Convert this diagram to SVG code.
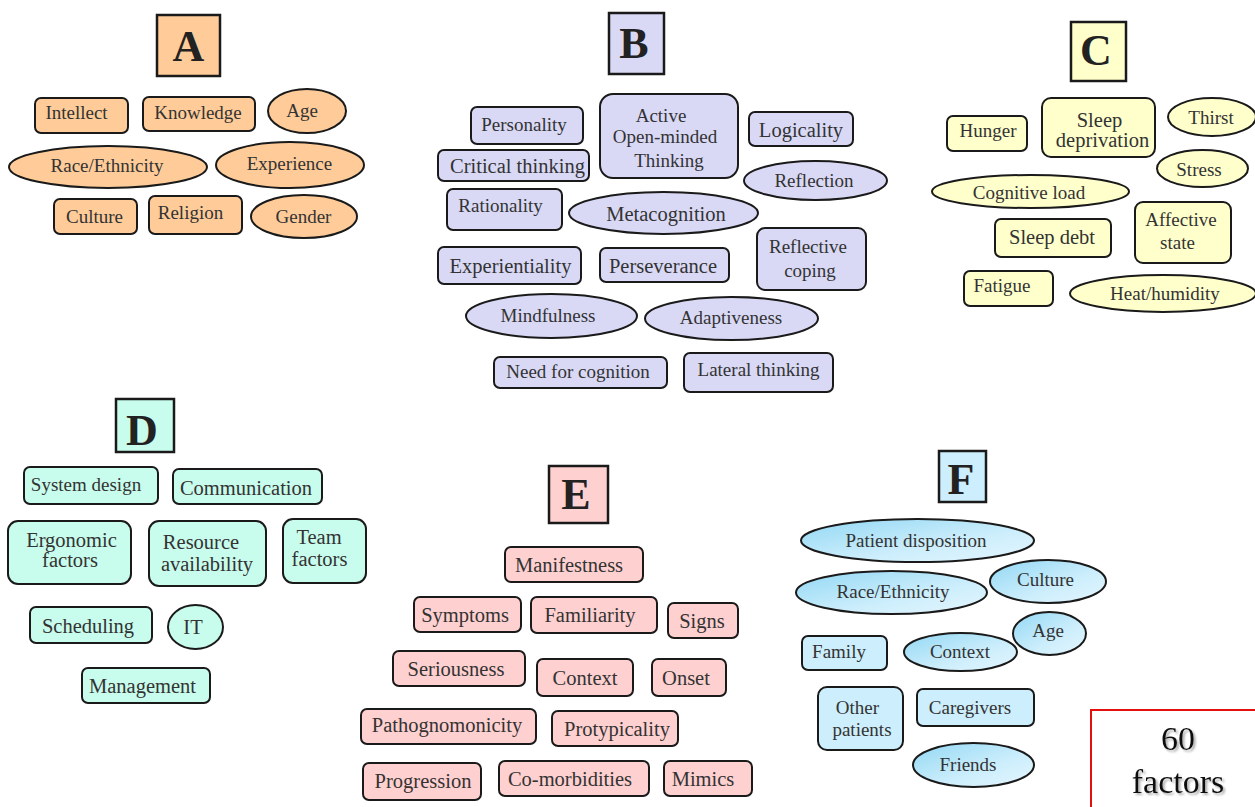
<svg xmlns="http://www.w3.org/2000/svg" width="1255" height="807" viewBox="0 0 1255 807">
<defs>
<style>
text{font-family:"Liberation Serif","Times New Roman",serif;font-size:19px;fill:#333;text-anchor:middle}
.big{font-size:20.5px}
.L{font-size:44px;font-weight:bold;fill:#222}
.n{stroke:#1a1a1a;stroke-width:2}
.lb{stroke:#1a1a1a;stroke-width:2.5}
.a{fill:#FFCC99}
.b{fill:#D9D9F6}
.c{fill:#FFFFCC}
.d{fill:#C8FCEC}
.e{fill:#FFD0D0}
.f{fill:#CDEEFC}
.fg{fill:url(#gradF)}
.tot{font-size:34px;fill:#111;filter:url(#sh)}
</style>
<linearGradient id="gradF" x1="0" y1="0" x2="1" y2="1">
<stop offset="0" stop-color="#92D8F4"/>
<stop offset="0.6" stop-color="#CDEEFC"/>
<stop offset="1" stop-color="#E4F6FE"/>
</linearGradient>
<filter id="sh" x="-20%" y="-20%" width="140%" height="140%">
<feDropShadow dx="2" dy="2" stdDeviation="1.2" flood-color="#777" flood-opacity="0.6"/>
</filter>
</defs>
<rect width="1255" height="807" fill="#fff"/>
<g id="connectors"/>

<!-- A -->
<g id="labelA"><rect class="a lb" x="157" y="15" width="63" height="61"/><text class="L" x="188.5" y="61">A</text></g>
<g id="a-intellect"><rect class="a n" x="35" y="98" width="93" height="35" rx="6"/><text x="76.5" y="119">Intellect</text></g>
<g id="a-knowledge"><rect class="a n" x="143" y="97" width="112" height="34" rx="6"/><text x="198" y="119">Knowledge</text></g>
<g id="a-age"><ellipse class="a n" cx="307" cy="111" rx="39" ry="22"/><text x="302" y="117">Age</text></g>
<g id="a-race"><ellipse class="a n" cx="108" cy="167" rx="99" ry="21"/><text x="107" y="172">Race/Ethnicity</text></g>
<g id="a-experience"><ellipse class="a n" cx="290" cy="165" rx="74" ry="23"/><text x="289.5" y="170">Experience</text></g>
<g id="a-culture"><rect class="a n" x="54" y="199" width="83" height="35" rx="6"/><text x="94.5" y="223">Culture</text></g>
<g id="a-religion"><rect class="a n" x="149" y="196" width="93" height="38" rx="6"/><text x="190.5" y="219">Religion</text></g>
<g id="a-gender"><ellipse class="a n" cx="304" cy="216.5" rx="53" ry="21.5"/><text x="303.5" y="223">Gender</text></g>

<!-- B -->
<g id="labelB"><rect class="b lb" x="609" y="13" width="55" height="61"/><text class="L" x="634" y="58">B</text></g>
<g id="b-personality"><rect class="b n" x="471" y="107" width="112" height="37" rx="6"/><text x="524" y="131">Personality</text></g>
<g id="b-aomt"><rect class="b n" x="600" y="94" width="138" height="84" rx="13"/><text x="661" y="122">Active</text><text x="665" y="143">Open-minded</text><text x="669" y="167">Thinking</text></g>
<g id="b-logicality"><rect class="b n" x="749" y="112" width="104" height="34" rx="6"/><text class="big" x="801" y="137">Logicality</text></g>
<g id="b-critical"><rect class="b n" x="438" y="150" width="151" height="31" rx="6"/><text class="big" x="517.5" y="173">Critical thinking</text></g>
<g id="b-reflection"><ellipse class="b n" cx="815.5" cy="180.5" rx="71.5" ry="19.5"/><text x="814" y="187">Reflection</text></g>
<g id="b-rationality"><rect class="b n" x="447" y="189" width="115" height="41" rx="6"/><text x="500.5" y="212">Rationality</text></g>
<g id="b-metacognition"><ellipse class="b n" cx="663.5" cy="213" rx="94.5" ry="21"/><text class="big" x="666" y="221">Metacognition</text></g>
<g id="b-reflective"><rect class="b n" x="757" y="228" width="109" height="62" rx="8"/><text x="808" y="253">Reflective</text><text x="810" y="277">coping</text></g>
<g id="b-experientiality"><rect class="b n" x="438" y="247" width="143" height="37" rx="6"/><text class="big" x="510.5" y="273">Experientiality</text></g>
<g id="b-perseverance"><rect class="b n" x="600" y="248" width="129" height="34" rx="6"/><text class="big" x="663" y="273">Perseverance</text></g>
<g id="b-mindfulness"><ellipse class="b n" cx="551.5" cy="316" rx="85.5" ry="22"/><text x="548" y="322">Mindfulness</text></g>
<g id="b-adaptiveness"><ellipse class="b n" cx="731.5" cy="318.5" rx="86.5" ry="21.5"/><text x="731" y="324">Adaptiveness</text></g>
<g id="b-need"><rect class="b n" x="494" y="357" width="173" height="31" rx="6"/><text x="578" y="378">Need for cognition</text></g>
<g id="b-lateral"><rect class="b n" x="684" y="353" width="149" height="39" rx="6"/><text x="758.5" y="376">Lateral thinking</text></g>

<!-- C -->
<g id="labelC"><rect class="c lb" x="1071" y="22" width="55" height="59"/><text class="L" x="1096" y="65">C</text></g>
<g id="c-hunger"><rect class="c n" x="947" y="116" width="80" height="35" rx="6"/><text x="988" y="137">Hunger</text></g>
<g id="c-sleepdep"><rect class="c n" x="1042" y="98" width="113" height="59" rx="9"/><text class="big" x="1099.5" y="127">Sleep</text><text class="big" x="1102.5" y="147">deprivation</text></g>
<g id="c-thirst"><ellipse class="c n" cx="1212" cy="117" rx="44" ry="19"/><text x="1211" y="124">Thirst</text></g>
<g id="c-stress"><ellipse class="c n" cx="1202.5" cy="168.5" rx="45.5" ry="18.5"/><text x="1199" y="176">Stress</text></g>
<g id="c-cogload"><ellipse class="c n" cx="1030.5" cy="191.5" rx="98.5" ry="16.5"/><text x="1029" y="199">Cognitive load</text></g>
<g id="c-sleepdebt"><rect class="c n" x="995" y="219" width="116" height="38" rx="6"/><text class="big" x="1052" y="244">Sleep debt</text></g>
<g id="c-affective"><rect class="c n" x="1135" y="202" width="96" height="61" rx="8"/><text x="1181" y="226">Affective</text><text x="1177.5" y="249">state</text></g>
<g id="c-fatigue"><rect class="c n" x="964" y="271" width="89" height="35" rx="6"/><text x="1002" y="292">Fatigue</text></g>
<g id="c-heat"><ellipse class="c n" cx="1163" cy="293.5" rx="93" ry="18.5"/><text x="1165" y="300">Heat/humidity</text></g>

<!-- D -->
<g id="labelD"><rect class="d lb" x="116" y="399" width="58" height="53"/><text class="L" x="142" y="445">D</text></g>
<g id="d-system"><rect class="d n" x="24" y="467" width="134" height="37" rx="6"/><text x="86" y="491">System design</text></g>
<g id="d-communication"><rect class="d n" x="173" y="469" width="149" height="35" rx="6"/><text class="big" x="246" y="495">Communication</text></g>
<g id="d-ergonomic"><rect class="d n" x="8" y="521" width="123" height="63" rx="10"/><text class="big" x="71.5" y="547">Ergonomic</text><text class="big" x="70" y="567">factors</text></g>
<g id="d-resource"><rect class="d n" x="149" y="521" width="117" height="65" rx="10"/><text class="big" x="201" y="549">Resource</text><text class="big" x="207" y="571">availability</text></g>
<g id="d-team"><rect class="d n" x="283" y="519" width="83" height="64" rx="10"/><text class="big" x="319" y="544">Team</text><text class="big" x="319.5" y="566">factors</text></g>
<g id="d-scheduling"><rect class="d n" x="30" y="607" width="122" height="36" rx="6"/><text class="big" x="88" y="633">Scheduling</text></g>
<g id="d-it"><ellipse class="d n" cx="195.5" cy="627" rx="27.5" ry="22"/><text class="big" x="193" y="634">IT</text></g>
<g id="d-management"><rect class="d n" x="82" y="668" width="128" height="35" rx="6"/><text class="big" x="142.5" y="693">Management</text></g>

<!-- E -->
<g id="labelE"><rect class="e lb" x="549" y="466" width="59" height="57"/><text class="L" x="576" y="509">E</text></g>
<g id="e-manifestness"><rect class="e n" x="505" y="547" width="138" height="35" rx="6"/><text class="big" x="569" y="572">Manifestness</text></g>
<g id="e-symptoms"><rect class="e n" x="414" y="597" width="107" height="35" rx="6"/><text class="big" x="465" y="622">Symptoms</text></g>
<g id="e-familiarity"><rect class="e n" x="531" y="597" width="126" height="36" rx="6"/><text class="big" x="590" y="622">Familiarity</text></g>
<g id="e-signs"><rect class="e n" x="668" y="603" width="70" height="35" rx="6"/><text class="big" x="702" y="628">Signs</text></g>
<g id="e-seriousness"><rect class="e n" x="393" y="651" width="132" height="35" rx="6"/><text class="big" x="456" y="676">Seriousness</text></g>
<g id="e-context"><rect class="e n" x="537" y="659" width="96" height="37" rx="6"/><text class="big" x="585" y="685">Context</text></g>
<g id="e-onset"><rect class="e n" x="652" y="659" width="74" height="37" rx="6"/><text class="big" x="686" y="685">Onset</text></g>
<g id="e-pathognomonicity"><rect class="e n" x="361" y="709" width="175" height="35" rx="6"/><text class="big" x="447" y="732">Pathognomonicity</text></g>
<g id="e-protypicality"><rect class="e n" x="552" y="711" width="126" height="35" rx="6"/><text class="big" x="617" y="736">Protypicality</text></g>
<g id="e-progression"><rect class="e n" x="363" y="763" width="118" height="37" rx="6"/><text class="big" x="423" y="788">Progression</text></g>
<g id="e-comorbidities"><rect class="e n" x="499" y="761" width="150" height="35" rx="6"/><text class="big" x="570" y="786">Co-morbidities</text></g>
<g id="e-mimics"><rect class="e n" x="664" y="761" width="88" height="35" rx="6"/><text class="big" x="703" y="786">Mimics</text></g>

<!-- F -->
<g id="labelF"><rect class="f lb" x="939" y="451" width="47" height="51"/><text class="L" x="961" y="494">F</text></g>
<g id="f-patient"><ellipse class="fg n" cx="917.5" cy="540.5" rx="116.5" ry="21.5"/><text x="916" y="547">Patient disposition</text></g>
<g id="f-race"><ellipse class="fg n" cx="891.5" cy="592.5" rx="95.5" ry="21.5"/><text x="893" y="598">Race/Ethnicity</text></g>
<g id="f-culture"><ellipse class="fg n" cx="1048" cy="581.5" rx="58" ry="21.5"/><text x="1045.5" y="586">Culture</text></g>
<g id="f-age"><ellipse class="fg n" cx="1049.5" cy="633.5" rx="36.5" ry="21.5"/><text x="1048" y="637">Age</text></g>
<g id="f-family"><rect class="f n" x="802" y="636" width="85" height="34" rx="6"/><text x="839" y="658">Family</text></g>
<g id="f-context"><ellipse class="fg n" cx="960.5" cy="652" rx="56.5" ry="19"/><text x="960" y="658">Context</text></g>
<g id="f-other"><rect class="f n" x="818" y="687" width="85" height="63" rx="9"/><text x="857.5" y="714">Other</text><text x="862" y="736">patients</text></g>
<g id="f-caregivers"><rect class="f n" x="917" y="689" width="117" height="37" rx="6"/><text x="970" y="714">Caregivers</text></g>
<g id="f-friends"><ellipse class="fg n" cx="973.5" cy="765" rx="60.5" ry="22"/><text x="968" y="771">Friends</text></g>

<!-- total -->
<g id="total"><rect x="1091" y="710" width="220" height="140" fill="#fff" stroke="#E41010" stroke-width="2"/><text class="tot" x="1178" y="750">60</text><text class="tot" x="1178" y="793">factors</text></g>
</svg>
